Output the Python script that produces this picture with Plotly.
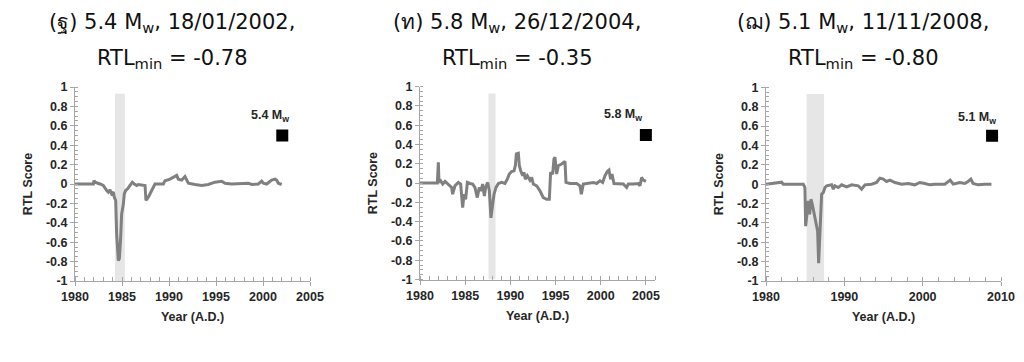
import plotly.graph_objects as go

# ---------------- data ----------------
# Panel 1: (ฐ) 5.4 Mw, 18/01/2002
years_a = [1980.0, 1981.95, 1982.02, 1982.13, 1982.66, 1983.01, 1983.37, 1983.55, 1983.72, 1983.90,
           1984.08, 1984.18, 1984.33, 1984.43, 1984.61, 1984.72, 1984.86, 1984.96, 1985.14, 1985.25,
           1985.39, 1985.60, 1985.85, 1986.10, 1986.31, 1986.56, 1986.74, 1987.45, 1987.55, 1987.80,
           1988.16, 1988.51, 1989.40, 1989.57, 1990.11, 1990.64, 1990.82, 1990.99, 1991.35, 1991.70,
           1991.88, 1992.06, 1992.77, 1993.48, 1994.18, 1994.89, 1995.60, 1995.96, 1996.67, 1998.44,
           1998.79, 1999.50, 1999.86, 2000.04, 2000.39, 2000.92, 2001.28, 2001.45, 2001.63, 2001.99]
rtl_a = [0.0, 0.0, 0.036, 0.019, 0.0, -0.015, -0.067, -0.084, -0.060, -0.101,
         -0.084, -0.136, -0.170, -0.514, -0.79, -0.77, -0.55, -0.31, -0.21, -0.10,
         -0.067, -0.05, -0.015, 0.019, 0.0, -0.015, -0.005, -0.015, -0.17, -0.136,
         -0.067, 0.0, 0.0, 0.034, 0.05, 0.077, 0.088, 0.05, 0.04, 0.077,
         0.034, 0.008, -0.005, -0.015, -0.005, 0.019, 0.029, 0.008, 0.0, 0.008,
         -0.005, 0.0, 0.029, 0.008, 0.0, 0.04, 0.05, 0.04, 0.008, -0.005]

# Panel 2: (ท) 5.8 Mw, 26/12/2004
years_b = [1980.0, 1981.92, 1982.03, 1982.10, 1982.29, 1982.51, 1982.77, 1983.13, 1983.50, 1983.61,
           1983.87, 1984.24, 1984.50, 1984.72, 1984.87, 1985.05, 1985.24, 1985.53, 1985.83, 1986.08,
           1986.34, 1986.56, 1986.75, 1986.93, 1987.12, 1987.26, 1987.49, 1987.67, 1987.85, 1988.04,
           1988.19, 1988.41, 1988.67, 1989.03, 1989.40, 1989.66, 1989.88, 1990.14, 1990.40, 1990.55,
           1990.66, 1990.88, 1990.99, 1991.14, 1991.36, 1991.50, 1991.65, 1991.87, 1992.17, 1992.35,
           1992.54, 1992.91, 1993.27, 1993.64, 1994.01, 1994.31, 1994.45, 1994.68, 1994.82, 1994.93,
           1995.12, 1995.30, 1995.67, 1996.04, 1996.15, 1996.59, 1997.33, 1997.70, 1997.85, 1998.07,
           1998.44, 1999.17, 1999.54, 1999.91, 2000.21, 2000.46, 2000.72, 2000.91, 2001.09, 2001.24,
           2001.46, 2002.12, 2002.49, 2002.86, 2003.05, 2003.60, 2004.15, 2004.34, 2004.52, 2004.71,
           2005.00]
rtl_b = [0.0, 0.0, 0.216, 0.007, 0.024, -0.01, 0.017, -0.01, -0.045, -0.115,
         -0.028, 0.007, -0.01, -0.255, -0.115, -0.168, 0.007, -0.004, -0.01, -0.045,
         -0.15, -0.045, -0.08, -0.01, -0.133, -0.045, 0.007, -0.08, -0.36, -0.22,
         -0.115, -0.045, -0.004, 0.007, -0.004, 0.041, 0.094, 0.12, 0.128, 0.18,
         0.303, 0.31, 0.18, 0.128, 0.076, 0.111, 0.041, 0.076, 0.03, 0.059,
         -0.01, -0.028, -0.08, -0.15, -0.168, -0.168, 0.111, 0.094, 0.251, 0.268,
         0.094, 0.18, 0.198, 0.226, 0.007, -0.004, -0.004, -0.028, -0.115, -0.01,
         -0.004, 0.007, -0.004, 0.024, 0.007, 0.076, 0.12, 0.135, 0.041, 0.094,
         -0.004, -0.004, -0.01, -0.045, -0.01, -0.01, -0.004, -0.028, 0.059, 0.03,
         0.017]

# Panel 3: (ฌ) 5.1 Mw, 11/11/2008
years_c = [1980.0, 1982.0, 1982.2, 1984.76, 1984.97, 1985.06, 1985.27, 1985.40, 1985.57, 1985.74,
           1985.91, 1986.08, 1986.25, 1986.46, 1986.59, 1986.72, 1986.84, 1986.93, 1987.10, 1987.31,
           1987.53, 1987.74, 1988.38, 1988.59, 1988.80, 1989.23, 1989.65, 1990.29, 1990.93, 1991.78,
           1992.20, 1992.63, 1993.48, 1994.12, 1994.54, 1994.97, 1995.39, 1995.82, 1996.46, 1997.31,
           1998.16, 1999.00, 1999.64, 2000.28, 2000.92, 2001.56, 2002.83, 2003.51, 2003.90, 2004.74,
           2005.38, 2005.80, 2006.15, 2006.44, 2007.08, 2007.93, 2008.78]
rtl_c = [0.0, 0.02, 0.0, 0.0, -0.035, -0.434, -0.278, -0.174, -0.313, -0.156,
         -0.208, -0.278, -0.33, -0.417, -0.486, -0.817, -0.625, -0.365, -0.104, -0.087,
         -0.035, -0.017, -0.007, -0.052, -0.017, -0.035, -0.007, -0.028, -0.007, -0.017,
         -0.052, -0.007, 0.0, 0.017, 0.062, 0.052, 0.028, 0.042, 0.017, 0.0,
         0.007, -0.007, 0.017, 0.007, -0.007, 0.0, 0.0, 0.042, 0.0, 0.017,
         0.007, 0.028, 0.052, 0.007, -0.007, 0.0, 0.0]

titles_line1 = ["(ฐ) 5.4 M<sub>w</sub>, 18/01/2002,",
                "(ท) 5.8 M<sub>w</sub>, 26/12/2004,",
                "(ฌ) 5.1 M<sub>w</sub>, 11/11/2008,"]
titles_line2 = ["RTL<sub>min</sub> = -0.78", "RTL<sub>min</sub> = -0.35", "RTL<sub>min</sub> = -0.80"]
event_year = [2002.05, 2004.99, 2008.86]
event_label = ["5.4 M<sub>w</sub>", "5.8 M<sub>w</sub>", "5.1 M<sub>w</sub>"]
event_marker_value = [0.5, 0.5, 0.5]
label_year = [2000.7, 2002.45, 2006.98]
label_value = [0.70, 0.71, 0.68]
band_start = [1984.25, 1987.58, 1985.18]
band_end = [1985.30, 1988.35, 1987.42]
x_ranges = [[1980, 2005], [1980, 2006], [1980, 2010]]
x_dticks = [5, 5, 10]
x_minor = [1, 1, 2]
y_tickvals = [1, 0.8, 0.6, 0.4, 0.2, 0, -0.2, -0.4, -0.6, -0.8, -1]
y_ticktext = ["1", "0.8", "0.6", "0.4", "0.2", "0", "-0.2", "-0.4", "-0.6", "-0.8", "-1"]

series = [(years_a, rtl_a), (years_b, rtl_b), (years_c, rtl_c)]

# ---------------- layout geometry ----------------
# page body has an 8px margin, so the figure is sized to fill the rest of the window
OFF = 8
W, H = 1024 - OFF, 362 - OFF


def fx(px):
    return (px - OFF) / W


def fy(py):
    return 1 - (py - OFF) / H


x_doms = [[fx(75), fx(310)], [fx(420), fx(655)], [fx(766), fx(1001)]]
y_doms = [[fy(281), fy(87)], [fy(279.5), fy(86.7)], [fy(281), fy(87.3)]]
title_centers = [fx(172), fx(517), fx(863)]

fig = go.Figure()
axis_color = "#a6a6a6"
label_family = "Liberation Sans, Arial, sans-serif"
tick_font = dict(family=label_family, size=12.5, color="#262626")
title_font = dict(family="DejaVu Sans, Noto Sans, sans-serif", size=21, color="#111111")
line_color = "#808080"

annotations = []
shapes = []
for i, (xs, ys) in enumerate(series):
    sfx = "" if i == 0 else str(i + 1)
    xa, ya = "x" + sfx, "y" + sfx
    fig.add_trace(go.Scatter(x=xs, y=ys, mode="lines", xaxis=xa, yaxis=ya,
                             line=dict(color=line_color, width=3), showlegend=False,
                             hoverinfo="skip"))
    fig.add_trace(go.Scatter(x=[event_year[i]], y=[event_marker_value[i]], mode="markers",
                             xaxis=xa, yaxis=ya, showlegend=False,
                             marker=dict(symbol="square", size=12, color="black")))
    shapes.append(dict(type="rect", xref=xa, yref=ya, x0=band_start[i], x1=band_end[i],
                       y0=-1, y1=0.93, fillcolor="#e6e6e6", line=dict(width=0), layer="below"))
    annotations.append(dict(xref=xa, yref=ya, x=label_year[i], y=label_value[i],
                            text="<b>" + event_label[i] + "</b>", showarrow=False,
                            font=dict(family=label_family, size=12.5, color="#262626")))
    annotations.append(dict(xref="paper", yref="paper", x=title_centers[i], y=fy(23),
                            text=titles_line1[i], showarrow=False, xanchor="center", yanchor="middle",
                            font=title_font))
    annotations.append(dict(xref="paper", yref="paper", x=title_centers[i], y=fy(59),
                            text=titles_line2[i], showarrow=False, xanchor="center", yanchor="middle",
                            font=title_font))

    fig.layout["xaxis" + sfx] = dict(
        domain=x_doms[i], anchor=ya, range=x_ranges[i], tick0=1980, dtick=x_dticks[i],
        automargin=False,
        showgrid=False, zeroline=False, showline=True, linecolor=axis_color, linewidth=1,
        ticks="outside", ticklen=4, tickcolor=axis_color, tickfont=tick_font,
        tickprefix="<b>", ticksuffix="</b>",
        minor=dict(dtick=x_minor[i], tick0=1980, ticks="inside", ticklen=4, tickcolor=axis_color),
        title=dict(text="<b>Year (A.D.)</b>", standoff=9,
                   font=dict(family=label_family, size=12.5, color="#262626")))
    fig.layout["yaxis" + sfx] = dict(
        domain=y_doms[i], anchor=xa, range=[-1, 1], tickmode="array", automargin=False,
        tickvals=y_tickvals, ticktext=["<b>" + t + "</b>" for t in y_ticktext],
        showgrid=False, zeroline=False, showline=True, linecolor=axis_color, linewidth=1,
        ticks="outside", ticklen=4, tickcolor=axis_color, tickfont=tick_font,
        minor=dict(dtick=0.05, tick0=0, ticks="inside", ticklen=3, tickcolor=axis_color),
        title=dict(text="<b>RTL Score</b>", standoff=10,
                   font=dict(family=label_family, size=12.5, color="#262626")))

fig.update_layout(width=W, height=H, margin=dict(l=0, r=0, t=0, b=0, autoexpand=False),
                  paper_bgcolor="white", plot_bgcolor="white",
                  annotations=annotations, shapes=shapes)
fig.write_html("out.html")
